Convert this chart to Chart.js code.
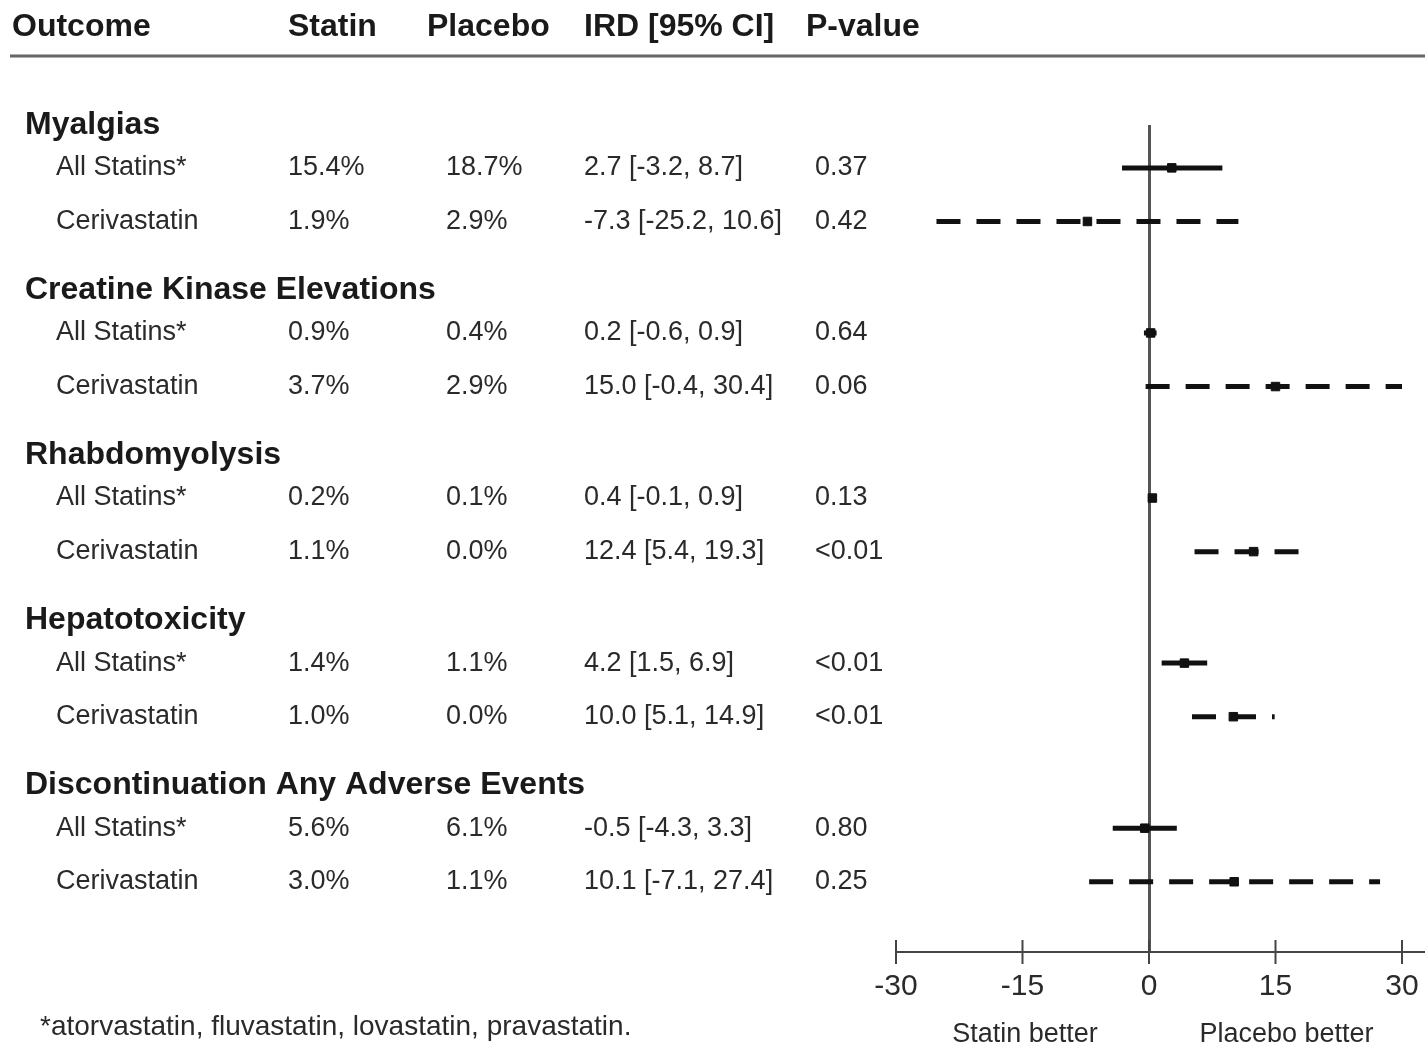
<!DOCTYPE html>
<html>
<head>
<meta charset="utf-8">
<script src="https://cdn.jsdelivr.net/npm/chart.js@4"></script>
<style>
  body { margin: 0; background: #fff; }
  #wrap { width: 1425px; height: 1046px; position: relative; }
</style>
</head>
<body>
<div id="wrap"><canvas id="chart"></canvas></div>
<script>
const outcomes = [
  'Myalgias', 'Creatine Kinase Elevations', 'Rhabdomyolysis',
  'Hepatotoxicity', 'Discontinuation Any Adverse Events'
];
const subgroups = ['All Statins*', 'Cerivastatin'];
const statinPct = ['15.4%', '1.9%', '0.9%', '3.7%', '0.2%', '1.1%', '1.4%', '1.0%', '5.6%', '3.0%'];
const placeboPct = ['18.7%', '2.9%', '0.4%', '2.9%', '0.1%', '0.0%', '1.1%', '0.0%', '6.1%', '1.1%'];
const ird = [2.7, -7.3, 0.2, 15.0, 0.4, 12.4, 4.2, 10.0, -0.5, 10.1];
const ciLow = [-3.2, -25.2, -0.6, -0.4, -0.1, 5.4, 1.5, 5.1, -4.3, -7.1];
const ciHigh = [8.7, 10.6, 0.9, 30.4, 0.9, 19.3, 6.9, 14.9, 3.3, 27.4];
const pValues = ['0.37', '0.42', '0.64', '0.06', '0.13', '<0.01', '<0.01', '<0.01', '0.80', '0.25'];
const xTicks = [-30, -15, 0, 15, 30];

// layout of the rows on the y scale (row units)
const GROUP_STEP = 3.08;
const HEADER_OFFSET = 0.8;
const rowY = i => Math.floor(i / 2) * GROUP_STEP + 1 + (i % 2);
const headerY = g => g * GROUP_STEP + 1 - HEADER_OFFSET;

const FONT = '"Liberation Sans", Arial, sans-serif';
const fmt = v => v.toFixed(1);

const datasets = ird.map((v, i) => ({
  type: 'line',
  data: [{ x: ciLow[i], y: rowY(i) }, { x: ciHigh[i], y: rowY(i) }],
  borderColor: '#111',
  borderWidth: 5,
  borderDash: i % 2 ? [24, 16] : [],
  borderCapStyle: 'butt',
  pointRadius: 0,
  order: 2
}));
datasets.push({
  type: 'scatter',
  data: ird.map((v, i) => ({ x: v, y: rowY(i) })),
  pointStyle: 'rect',
  pointRadius: 6,
  backgroundColor: '#111',
  borderColor: '#111',
  order: 1
});

const tablePlugin = {
  id: 'table',
  afterDraw(chart) {
    const { ctx, scales: { x, y } } = chart;
    ctx.save();
    ctx.textBaseline = 'middle';
    ctx.textAlign = 'left';

    // column headers
    ctx.fillStyle = '#1a1a1a';
    ctx.font = 'bold 32px ' + FONT;
    ctx.fillText('Outcome', 12, 27);
    ctx.fillText('Statin', 288, 27);
    ctx.fillText('Placebo', 427, 27);
    ctx.fillText('IRD [95% CI]', 584, 27);
    ctx.fillText('P-value', 806, 27);
    ctx.strokeStyle = '#666';
    ctx.lineWidth = 3;
    ctx.beginPath();
    ctx.moveTo(10, 56);
    ctx.lineTo(1425, 56);
    ctx.stroke();

    outcomes.forEach((name, g) => {
      ctx.font = 'bold 32px ' + FONT;
      ctx.fillStyle = '#1a1a1a';
      ctx.fillText(name, 25, y.getPixelForValue(headerY(g)));
    });

    ctx.font = '27px ' + FONT;
    ctx.fillStyle = '#2a2a2a';
    ird.forEach((v, i) => {
      const py = y.getPixelForValue(rowY(i));
      ctx.fillText(subgroups[i % 2], 56, py);
      ctx.fillText(statinPct[i], 288, py);
      ctx.fillText(placeboPct[i], 446, py);
      ctx.fillText(fmt(v) + ' [' + fmt(ciLow[i]) + ', ' + fmt(ciHigh[i]) + ']', 584, py);
      ctx.fillText(pValues[i], 815, py);
    });

    // x axis line with crossing ticks
    const ay = chart.chartArea.bottom;
    ctx.strokeStyle = '#444';
    ctx.lineWidth = 2;
    ctx.beginPath();
    ctx.moveTo(x.getPixelForValue(xTicks[0]), ay);
    ctx.lineTo(chart.width, ay);
    xTicks.forEach(t => {
      const px = x.getPixelForValue(t);
      ctx.moveTo(px, ay - 12);
      ctx.lineTo(px, ay + 12);
    });
    ctx.stroke();

    ctx.textAlign = 'center';
    ctx.font = '27px ' + FONT;
    ctx.fillStyle = '#2a2a2a';
    ctx.fillText('Statin better', x.getPixelForValue(-14.7), 1035);
    ctx.fillText('Placebo better', x.getPixelForValue(16.3), 1035);

    ctx.textAlign = 'left';
    ctx.font = '28px ' + FONT;
    ctx.fillText('*atorvastatin, fluvastatin, lovastatin, pravastatin.', 40, 1027);
    ctx.restore();
  }
};

new Chart(document.getElementById('chart'), {
  data: { datasets },
  options: {
    responsive: true,
    maintainAspectRatio: false,
    animation: false,
    layout: { padding: { left: 896, right: 23, top: 125, bottom: 34 } },
    plugins: { legend: { display: false }, tooltip: { enabled: false } },
    scales: {
      x: {
        type: 'linear',
        min: -30,
        max: 30,
        afterFit: s => { s.height = 60; s.paddingLeft = 0; s.paddingRight = 0; },
        afterBuildTicks: s => { s.ticks = xTicks.map(v => ({ value: v })); },
        border: { display: false },
        grid: {
          drawTicks: false,
          lineWidth: 3,
          color: c => (c.tick && c.tick.value === 0 ? '#555' : 'rgba(0,0,0,0)')
        },
        ticks: {
          padding: 17,
          color: '#2a2a2a',
          font: { family: FONT, size: 30 }
        }
      },
      y: {
        type: 'linear',
        min: 0.2,
        max: 15.63,
        reverse: true,
        display: false
      }
    }
  },
  plugins: [tablePlugin]
});
</script>
</body>
</html>
